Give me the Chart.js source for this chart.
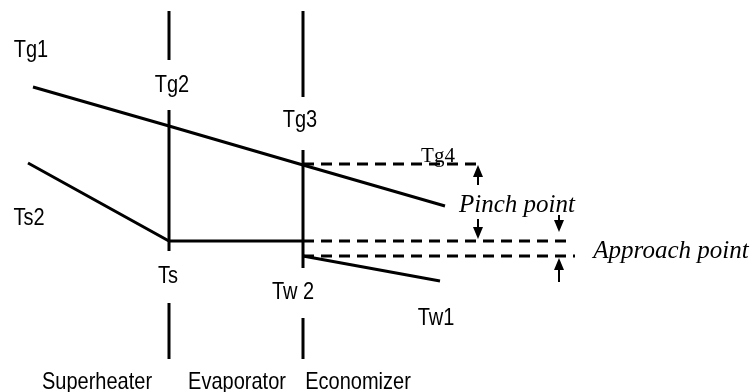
<!DOCTYPE html>
<html>
<head>
<meta charset="utf-8">
<script src="https://cdn.jsdelivr.net/npm/chart.js@4/dist/chart.umd.min.js"></script>
<style>
  html, body { margin: 0; padding: 0; background: #fff; }
  #profil { display: block; }
</style>
</head>
<body>
<canvas id="profil" width="756" height="392"></canvas>
<script>
// position along the boiler (0..756) and temperature level (0..392)
const gasX = [33, 169, 303, 445];
const gasT = [305, 266, 227, 186];

const steamX = [28, 169, 303];
const steamT = [229, 151, 151];

const waterX = [303, 440];
const waterT = [136, 111];

// dashed reference levels: Tg4, Ts and Tw2
const refStart = [303, 303, 303];
const refEnd = [480, 573, 575];
const refT = [228, 151, 136];

// section borders, each broken where a label sits
const borderX = [169, 303];
const borderTop = [[381, 332], [381, 295]];
const borderMid = [[282, 141], [242, 124]];
const borderLow = [[89, 33], [74, 33]];

// pinch / approach arrows
const arrowX = [478, 478, 559, 559];
const arrowTail = [207, 173, 177, 110];
const arrowTip = [227, 153, 160, 134];

const labelText = ['Tg1', 'Tg2', 'Tg3', 'Ts2', 'Ts', 'Tw 2', 'Tw1', 'Superheater', 'Evaporator', 'Economizer'];
const labelX = [31, 172, 300, 29, 168, 293, 436, 97, 237, 358];
const labelT = [335, 300, 265, 167, 109, 93, 67, 3, 3, 3];

const serifText = ['Tg4', 'Pinch point', 'Approach point'];
const serifX = [438, 517, 671];
const serifT = [230, 180, 134];
const serifFont = ['21px "Liberation Serif"', 'italic 25px "Liberation Serif"', 'italic 25px "Liberation Serif"'];

const pts = (xs, ys) => xs.map((x, i) => ({ x: x, y: ys[i] }));

const solid = (data) => ({
  data: data,
  showLine: true,
  borderColor: '#000',
  borderWidth: 3,
  pointRadius: 0,
  spanGaps: false
});

const dashed = (data) => Object.assign(solid(data), { borderDash: [11, 7] });

const datasets = [
  solid(pts(gasX, gasT)),
  solid(pts(steamX, steamT)),
  solid(pts(waterX, waterT))
];

refT.forEach((t, i) => {
  datasets.push(dashed([{ x: refStart[i], y: t }, { x: refEnd[i], y: t }]));
});

borderX.forEach((x, i) => {
  const segs = [borderTop[i], borderMid[i], borderLow[i]];
  const data = [];
  segs.forEach((s, k) => {
    if (k > 0) data.push({ x: x, y: null });
    data.push({ x: x, y: s[0] }, { x: x, y: s[1] });
  });
  datasets.push(solid(data));
});

const arrowsAndText = {
  id: 'arrowsAndText',
  afterDatasetsDraw(chart) {
    const ctx = chart.ctx;
    const sx = chart.scales.x, sy = chart.scales.y;
    ctx.save();
    ctx.fillStyle = '#000';
    ctx.strokeStyle = '#000';

    arrowX.forEach((x, i) => {
      const px = sx.getPixelForValue(x);
      const tail = sy.getPixelForValue(arrowTail[i]);
      const tip = sy.getPixelForValue(arrowTip[i]);
      const dir = tip > tail ? 1 : -1;
      const head = 12;
      ctx.lineWidth = 2;
      ctx.beginPath();
      ctx.moveTo(px, tail);
      ctx.lineTo(px, tip - dir * head);
      ctx.stroke();
      ctx.beginPath();
      ctx.moveTo(px, tip);
      ctx.lineTo(px - 5, tip - dir * head);
      ctx.lineTo(px + 5, tip - dir * head);
      ctx.closePath();
      ctx.fill();
    });

    // the sans labels are set slightly tall and narrow
    ctx.textAlign = 'center';
    ctx.textBaseline = 'alphabetic';
    ctx.font = '20px "Liberation Sans", Arial, sans-serif';
    labelText.forEach((t, i) => {
      ctx.save();
      ctx.translate(sx.getPixelForValue(labelX[i]), sy.getPixelForValue(labelT[i]));
      ctx.scale(1, 1.17);
      ctx.fillText(t, 0, 0);
      ctx.restore();
    });

    serifText.forEach((t, i) => {
      ctx.font = serifFont[i];
      ctx.fillText(t, sx.getPixelForValue(serifX[i]), sy.getPixelForValue(serifT[i]));
    });
    ctx.restore();
  }
};

new Chart(document.getElementById('profil').getContext('2d'), {
  type: 'scatter',
  data: { datasets: datasets },
  options: {
    responsive: false,
    animation: false,
    layout: { padding: 0 },
    plugins: {
      legend: { display: false },
      tooltip: { enabled: false }
    },
    scales: {
      x: { type: 'linear', min: 0, max: 756, display: false },
      y: { type: 'linear', min: 0, max: 392, display: false }
    }
  },
  plugins: [arrowsAndText]
});
</script>
</body>
</html>
